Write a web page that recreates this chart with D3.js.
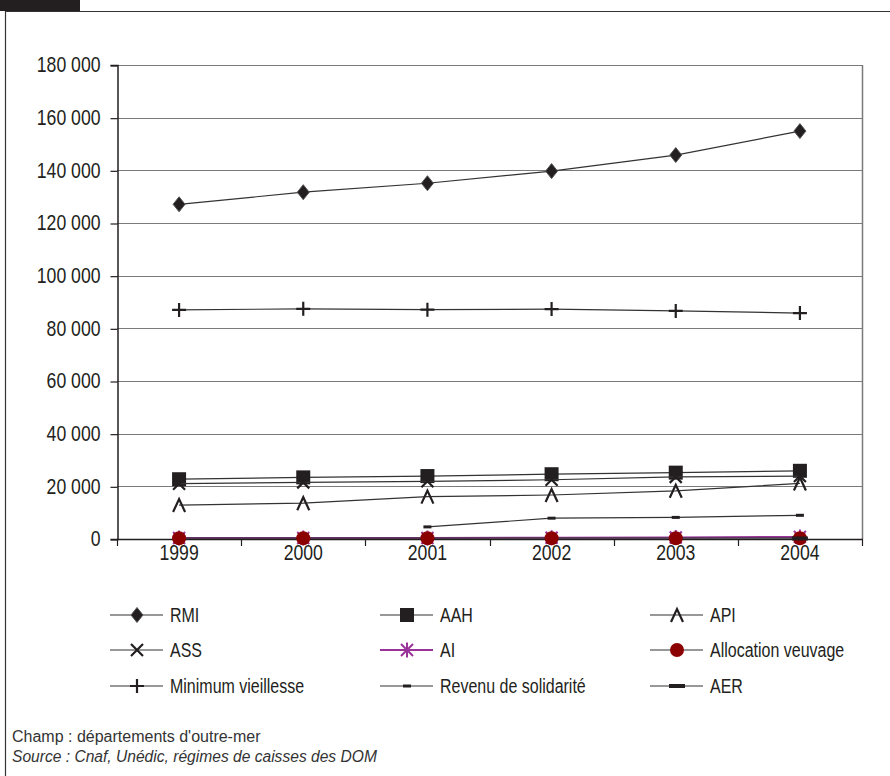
<!DOCTYPE html>
<html>
<head>
<meta charset="utf-8">
<script src="https://cdn.jsdelivr.net/npm/d3@7"></script>
<style>
  html, body { margin: 0; padding: 0; background: #fff; }
  svg { display: block; }
  .narrow { font-family: 'Liberation Sans', Arial, sans-serif; }
  .note { font-family: 'Liberation Sans', Arial, sans-serif; }
</style>
</head>
<body>
<svg id="chart" width="890" height="776"></svg>
<script>
// Years on the horizontal axis
const years = ["1999", "2000", "2001", "2002", "2003", "2004"];
// Number of beneficiaries per minimum income scheme
const rmi = [127100, 131700, 135100, 139700, 145800, 154900];
const aah = [22700, 23400, 23900, 24600, 25200, 25900];
const api = [12900, 13600, 16100, 16700, 18300, 21100];
const ass = [21000, 21500, 21900, 22500, 23600, 23900];
const ai = [400, 400, 400, 500, 600, 800];
const veuvage = [300, 300, 300, 300, 300, 300];
const vieillesse = [87000, 87400, 87100, 87300, 86600, 85800];
const solidarite = [null, null, 4600, 7900, 8200, 9000];
const aer = [null, null, null, null, null, 200];
// Y-axis tick values
const yTicks = [0, 20000, 40000, 60000, 80000, 100000, 120000, 140000, 160000, 180000];

const series = [
  { name: "RMI", values: rmi, marker: "diamond", line: "#333" },
  { name: "AAH", values: aah, marker: "square", line: "#333" },
  { name: "API", values: api, marker: "caret", line: "#333" },
  { name: "ASS", values: ass, marker: "cross", line: "#333" },
  { name: "AI", values: ai, marker: "asterisk", line: "#993399" },
  { name: "Allocation veuvage", values: veuvage, marker: "circle", line: "#333" },
  { name: "Minimum vieillesse", values: vieillesse, marker: "plus", line: "#333" },
  { name: "Revenu de solidarité", values: solidarite, marker: "dash", line: "#333" },
  { name: "AER", values: aer, marker: "bar", line: "#333" }
];

const svg = d3.select("#chart");
const INK = "#231f20";
const SQUEEZE = 0.82;   // horizontal squeeze giving a narrow face
const FS = 19.5;        // legend text size
const AXIS_FS = 21.5;   // axis label size

// Frame: dark tab, top rule and left rule
svg.append("rect").attr("x", 0).attr("y", 0).attr("width", 80).attr("height", 11).attr("fill", INK);
svg.append("line").attr("x1", 5).attr("x2", 890).attr("y1", 11.5).attr("y2", 11.5).attr("stroke", "#333").attr("stroke-width", 1.2);
svg.append("line").attr("x1", 5.5).attr("x2", 5.5).attr("y1", 11).attr("y2", 776).attr("stroke", "#333").attr("stroke-width", 1.2);

const plot = { left: 117, right: 862, top: 65, bottom: 539 };

const x = d3.scaleBand().domain(years).range([plot.left, plot.right]).padding(0);
const y = d3.scaleLinear().domain([0, 180000]).range([plot.bottom, plot.top]);
const cx = d => x(d) + x.bandwidth() / 2;

const fr = d3.formatLocale({ decimal: ",", thousands: "\u00a0", grouping: [3], currency: ["", " €"] });
const fmt = fr.format(",d");

// Horizontal gridlines
svg.append("g").selectAll("line").data(yTicks.filter(t => t > 0)).join("line")
  .attr("x1", plot.left).attr("x2", plot.right)
  .attr("y1", d => Math.round(y(d)) + 0.5).attr("y2", d => Math.round(y(d)) + 0.5)
  .attr("stroke", "#7a7a7a").attr("stroke-width", 1.2);

// Right border of the plot area
svg.append("line").attr("x1", plot.right + 0.5).attr("x2", plot.right + 0.5)
  .attr("y1", plot.top).attr("y2", plot.bottom).attr("stroke", "#7a7a7a").attr("stroke-width", 1.5);

// Y axis
const yAxis = svg.append("g").attr("class", "narrow")
  .attr("transform", `translate(${plot.left + 0.5},0)`)
  .call(d3.axisLeft(y).tickValues(yTicks).tickFormat(fmt).tickSize(7).tickPadding(10));
yAxis.select(".domain").attr("stroke", INK).attr("stroke-width", 1.5);
yAxis.selectAll(".tick line").attr("stroke", INK).attr("stroke-width", 1.2)
  .attr("transform", "translate(0,0.5)");
yAxis.selectAll("text")
  .attr("font-size", AXIS_FS).attr("fill", INK).attr("font-family", null)
  .attr("x", -17 / SQUEEZE).attr("transform", `scale(${SQUEEZE},1)`);

// X axis: labels centred in each band, ticks on band edges
const xAxis = svg.append("g").attr("class", "narrow")
  .attr("transform", `translate(0,${plot.bottom + 0.5})`)
  .call(d3.axisBottom(x).tickSize(0).tickPadding(5));
xAxis.select(".domain").remove();
xAxis.selectAll("text").attr("font-size", AXIS_FS).attr("fill", INK).attr("font-family", null)
  .attr("transform", `scale(${SQUEEZE},1)`);
svg.append("line").attr("x1", plot.left).attr("x2", plot.right + 1)
  .attr("y1", plot.bottom + 0.5).attr("y2", plot.bottom + 0.5).attr("stroke", INK).attr("stroke-width", 1.5);
const edges = years.map(d => x(d)).concat([x.range()[1]]);
svg.append("g").selectAll("line").data(edges).join("line")
  .attr("x1", d => Math.round(d) + 0.5).attr("x2", d => Math.round(d) + 0.5)
  .attr("y1", plot.bottom).attr("y2", plot.bottom + 7)
  .attr("stroke", INK).attr("stroke-width", 1.2);

// Marker drawing
function drawMarker(g, type) {
  switch (type) {
    case "diamond":
      g.append("path").attr("d", "M0,-7.5L6,0L0,7.5L-6,0Z").attr("fill", INK).attr("stroke", "#555").attr("stroke-width", 1);
      break;
    case "square":
      g.append("rect").attr("x", -7).attr("y", -7).attr("width", 14).attr("height", 14).attr("fill", INK);
      break;
    case "caret":
      g.append("path").attr("d", "M-6,7L0,-6L6,7").attr("fill", "none").attr("stroke", INK).attr("stroke-width", 2.2);
      break;
    case "cross":
      g.append("path").attr("d", "M-6,-6L6,6M-6,6L6,-6").attr("fill", "none").attr("stroke", INK).attr("stroke-width", 2.2);
      break;
    case "asterisk":
      g.append("path").attr("d", "M-6,-6L6,6M-6,6L6,-6M0,-7.5L0,7.5").attr("fill", "none").attr("stroke", "#993399").attr("stroke-width", 2);
      break;
    case "circle":
      g.append("circle").attr("r", 7).attr("fill", "#8b0000");
      break;
    case "plus":
      g.append("path").attr("d", "M-7,0L7,0M0,-7L0,7").attr("fill", "none").attr("stroke", INK).attr("stroke-width", 2.2);
      break;
    case "dash":
      g.append("rect").attr("x", -4).attr("y", -1.5).attr("width", 8).attr("height", 3).attr("fill", INK);
      break;
    case "bar":
      g.append("rect").attr("x", -8).attr("y", -2).attr("width", 16).attr("height", 4).attr("fill", INK);
      break;
  }
}

const line = d3.line().defined(d => d.v !== null).x(d => cx(d.year)).y(d => y(d.v));

series.forEach(s => {
  const pts = years.map((yr, i) => ({ year: yr, v: s.values[i] }));
  svg.append("path").datum(pts)
    .attr("d", line)
    .attr("fill", "none")
    .attr("stroke", s.line)
    .attr("stroke-width", s.marker === "asterisk" ? 2 : 1.2);
  pts.filter(p => p.v !== null).forEach(p => {
    const g = svg.append("g").attr("transform", `translate(${cx(p.year)},${y(p.v)})`);
    drawMarker(g, s.marker);
  });
});

// Legend: three columns, three rows
const legCols = [110, 380, 650];
const legRows = [615, 650, 686];
series.forEach((s, i) => {
  const lx = legCols[i % 3];
  const ly = legRows[Math.floor(i / 3)];
  const g = svg.append("g").attr("transform", `translate(${lx},${ly})`);
  g.append("line").attr("x1", 0).attr("x2", 53).attr("y1", 0).attr("y2", 0)
    .attr("stroke", s.line).attr("stroke-width", s.marker === "asterisk" ? 2.2 : 1.2);
  const m = g.append("g").attr("transform", "translate(27,0)");
  drawMarker(m, s.marker);
  g.append("text").attr("class", "narrow")
    .attr("transform", `translate(60,0) scale(${SQUEEZE},1)`)
    .attr("dy", "0.36em")
    .attr("font-size", FS).attr("fill", INK).text(s.name);
});

// Notes
svg.append("text").attr("class", "note").attr("x", 12).attr("y", 742)
  .attr("font-size", 16).attr("fill", "#333").text("Champ : départements d'outre-mer");
svg.append("text").attr("class", "note").attr("x", 12).attr("y", 762)
  .attr("font-size", 15.6).attr("font-style", "italic").attr("fill", "#333")
  .text("Source : Cnaf, Unédic, régimes de caisses des DOM");
</script>
</body>
</html>
